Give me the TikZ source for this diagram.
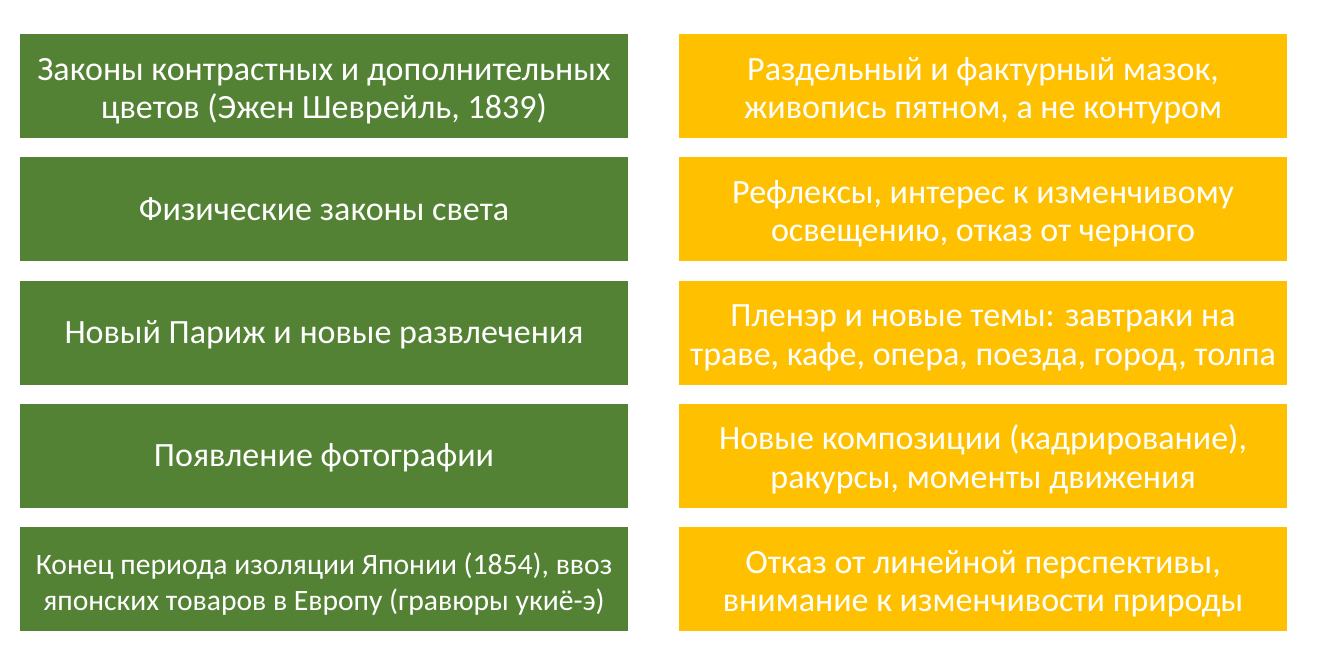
\documentclass[tikz,border=0pt]{standalone}
\usepackage{fontspec}
\setmainfont{Carlito}
\usepackage{tikz}
\definecolor{cause}{HTML}{548235}
\definecolor{effect}{HTML}{FFC000}

\begin{document}
\begin{tikzpicture}[x=1pt, y=-1pt,
    box/.style={minimum width=608pt, minimum height=104pt, inner sep=0pt,
      align=center, text=white, font=\fontsize{34}{38.5}\selectfont,
      text height=70pt, text depth=4.6pt},
    oneline/.style={text height=28pt, text depth=5.9pt},
    causebox/.style={box, fill=cause},
    effectbox/.style={box, fill=effect}]
  \useasboundingbox (0,0) rectangle (1319,656);
  \node[causebox] (c1) at (324,86) {Законы контрастных и дополнительных\\цветов (Эжен Шеврейль, 1839)};
  \node[causebox, oneline] (c2) at (324,209.25) {Физические законы света};
  \node[causebox, oneline] (c3) at (324,332.5) {Новый Париж и новые развлечения};
  \node[causebox, oneline] (c4) at (324,455.75) {Появление фотографии};
  \node[causebox, font=\fontsize{29.6}{36}\selectfont, text height=67pt, text depth=4pt] (c5) at (324,579) {Конец периода изоляции Японии (1854), ввоз\\японских товаров в Европу (гравюры укиё-э)};
  \node[effectbox] (e1) at (983,86) {Раздельный и фактурный мазок,\\живопись пятном, а не контуром};
  \node[effectbox] (e2) at (983,209.25) {Рефлексы, интерес к изменчивому\\освещению, отказ от черного};
  \node[effectbox] (e3) at (983,332.5) {Пленэр и новые темы: завтраки на\\траве, кафе, опера, поезда, город, толпа};
  \node[effectbox] (e4) at (983,455.75) {Новые композиции (кадрирование),\\ракурсы, моменты движения};
  \node[effectbox] (e5) at (983,579) {Отказ от линейной перспективы,\\внимание к изменчивости природы};
\end{tikzpicture}
\end{document}
